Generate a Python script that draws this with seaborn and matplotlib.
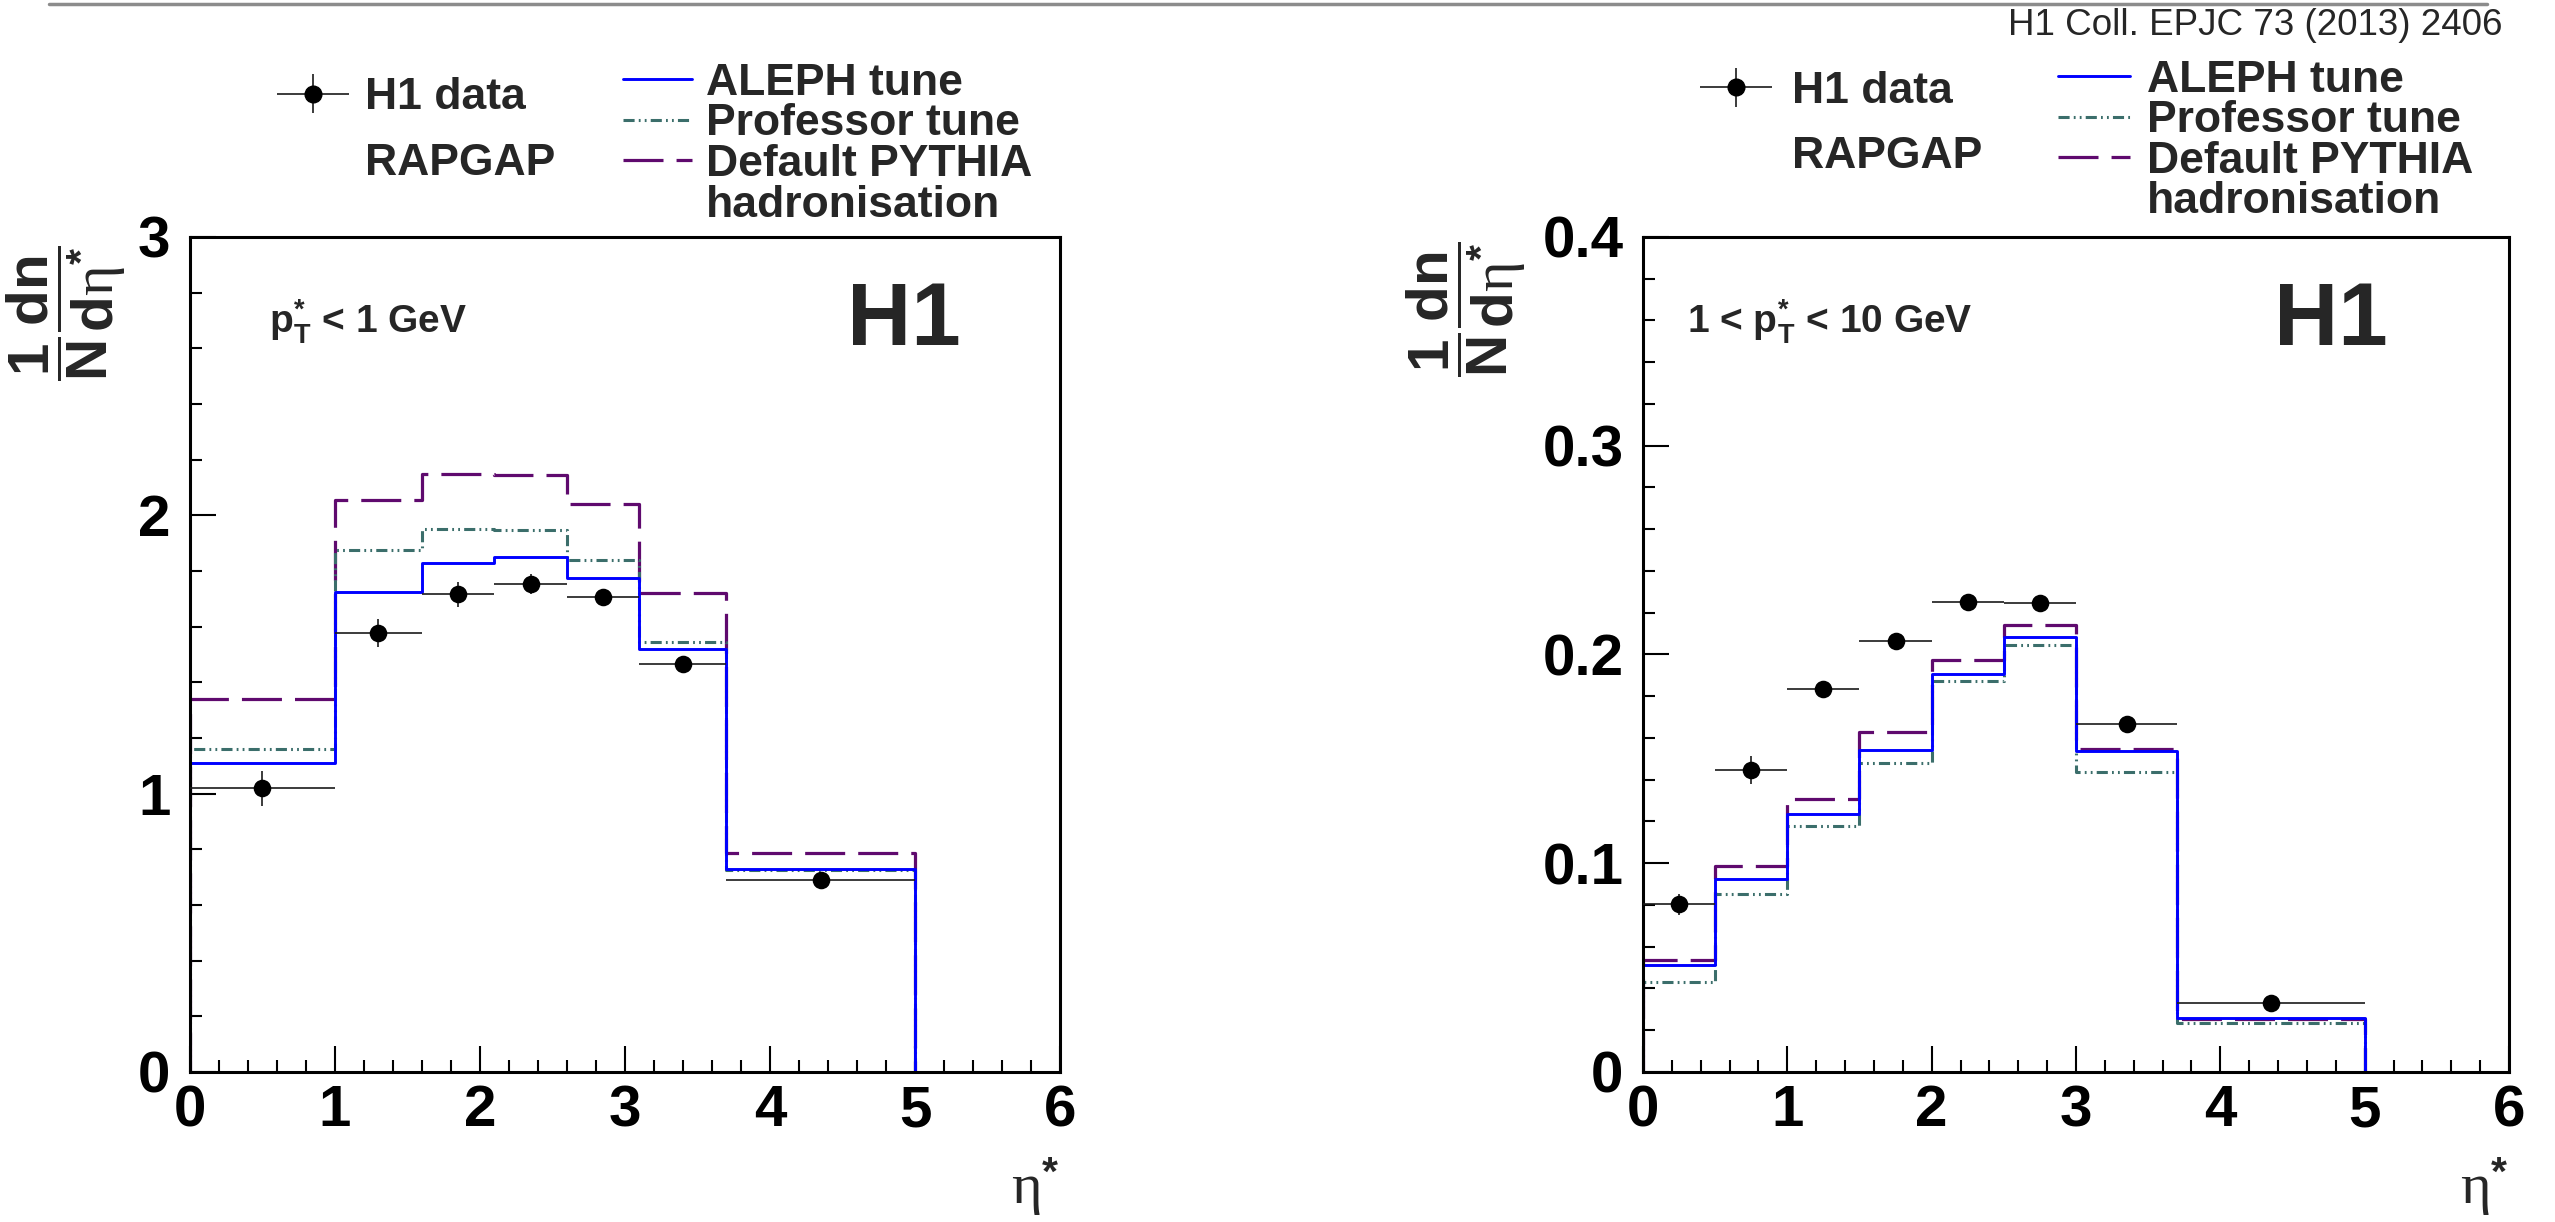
import numpy as np
import pandas as pd
import matplotlib
matplotlib.use("Agg")
import matplotlib.pyplot as plt
import seaborn as sns
from matplotlib.lines import Line2D
from matplotlib.container import ErrorbarContainer
from matplotlib.legend_handler import HandlerErrorbar
from matplotlib.ticker import MultipleLocator, FuncFormatter

# ---------------- data ----------------
# left panel: pT* < 1 GeV
edges_lo = [0.0, 1.0, 1.6, 2.1, 2.6, 3.1, 3.7, 5.0]
aleph_lo = [1.11, 1.725, 1.83, 1.85, 1.775, 1.52, 0.73]
prof_lo = [1.16, 1.875, 1.952, 1.946, 1.84, 1.545, 0.725]
pythia_lo = [1.34, 2.055, 2.15, 2.145, 2.04, 1.72, 0.787]
data_lo = [1.02, 1.578, 1.716, 1.754, 1.706, 1.465, 0.689]
err_lo = [0.063, 0.051, 0.045, 0.036, 0.02, 0.018, 0.012]

# right panel: 1 < pT* < 10 GeV
edges_hi = [0.0, 0.5, 1.0, 1.5, 2.0, 2.5, 3.0, 3.7, 5.0]
aleph_hi = [0.0511, 0.0926, 0.1238, 0.1541, 0.1906, 0.2084, 0.1537, 0.026]
prof_hi = [0.0429, 0.0853, 0.1179, 0.1481, 0.1873, 0.2044, 0.1437, 0.0237]
pythia_hi = [0.0535, 0.0987, 0.1306, 0.1627, 0.1976, 0.2143, 0.1549, 0.0252]
data_hi = [0.0803, 0.1446, 0.1835, 0.2063, 0.225, 0.2248, 0.1665, 0.033]
err_hi = [0.005, 0.0068, 0.003, 0.003, 0.003, 0.003, 0.003, 0.002]

x_ticks = [0, 1, 2, 3, 4, 5, 6]
series_labels = ["ALEPH tune", "Professor tune", "Default PYTHIA", "hadronisation"]
data_label = "H1 data"
gen_label = "RAPGAP"
citation = "H1 Coll. EPJC 73 (2013) 2406"

# ---------------- style ----------------
sns.set_style("white")
plt.rcParams['font.family'] = ['Liberation Sans', 'DejaVu Sans']
plt.rcParams['font.weight'] = 'bold'
plt.rcParams['mathtext.fontset'] = 'custom'
plt.rcParams['mathtext.rm'] = 'Liberation Serif:weight=normal'
plt.rcParams['mathtext.it'] = 'Liberation Serif:italic:weight=normal'
plt.rcParams['mathtext.bf'] = 'Liberation Sans:weight=bold'
plt.rcParams['mathtext.sf'] = 'Liberation Sans'
plt.rcParams['lines.scale_dashes'] = False

C_ALEPH = '#0000ff'
C_PROF = '#3b6e6b'
C_PYTH = '#5f0a6e'
LS_ALEPH = '-'
LS_PROF = (0, (8, 3, 1.3, 3, 1.3, 3))
LS_PYTH = (0, (28.8, 9.4))
LEG_FS = 32

fig = plt.figure(figsize=(25.55, 12.22), dpi=100)
fig.patch.set_facecolor('white')
ax_l = fig.add_axes([0.07436, 0.12275, 0.34051, 0.68331])
ax_r = fig.add_axes([0.64305, 0.12275, 0.33894, 0.68331])


def step_frame(edges, values):
    edges = np.asarray(edges, float)
    values = np.asarray(values, float)
    x = np.concatenate([[edges[0]], edges, [edges[-1]]])
    y = np.concatenate([[0.0], values, [values[-1], 0.0]])
    return pd.DataFrame({'eta': x, 'val': y})


def draw_panel(ax, edges, aleph, prof, pythia, data, err, ymax, ymaj, ymin_step):
    for vals, c, ls, lw in [(pythia, C_PYTH, LS_PYTH, 2.3),
                            (prof, C_PROF, LS_PROF, 2.2),
                            (aleph, C_ALEPH, LS_ALEPH, 2.1)]:
        df = step_frame(edges, vals)
        sns.lineplot(data=df, x='eta', y='val', ax=ax, sort=False, estimator=None,
                     drawstyle='steps-post', color=c, linestyle=ls, linewidth=lw,
                     legend=False)
    e = np.asarray(edges, float)
    centers = 0.5 * (e[:-1] + e[1:])
    halfw = 0.5 * (e[1:] - e[:-1])
    eb = ax.errorbar(centers, data, xerr=halfw, yerr=err, fmt='none',
                     ecolor='#1a1a1a', elinewidth=1.2, capsize=0, zorder=5)
    sns.scatterplot(x=centers, y=data, ax=ax, color='black', s=160,
                    linewidth=0, zorder=6, legend=False)
    ax.set_xlim(0, 6)
    ax.set_ylim(0, ymax)
    ax.set_xlabel('')
    ax.set_ylabel('')
    ax.set_xticks(x_ticks)
    ax.xaxis.set_minor_locator(MultipleLocator(0.2))
    ax.yaxis.set_major_locator(MultipleLocator(ymaj))
    ax.yaxis.set_minor_locator(MultipleLocator(ymin_step))
    ax.yaxis.set_major_formatter(FuncFormatter(lambda v, p: '0' if abs(v) < 1e-9 else f'{v:g}'))
    ax.xaxis.set_major_formatter(FuncFormatter(lambda v, p: f'{v:g}'))
    ax.tick_params(which='both', direction='in', top=False, right=False,
                   bottom=True, left=True, width=1.5, colors='black', labelsize=42)
    ax.tick_params(which='major', length=18.7)
    ax.tick_params(which='minor', length=8.6)
    ax.tick_params(axis='x', which='major', pad=9)
    ax.tick_params(axis='y', which='major', pad=14)
    for s in ax.spines.values():
        s.set_visible(True)
        s.set_color('black')
        s.set_linewidth(2.2)
    ax.set_xlabel(r'$\mathrm{\eta}^{\mathbf{*}}$', fontsize=42, fontweight='normal', loc='right')
    ax.xaxis.set_label_coords(1.0, -0.1)
    ax.xaxis.label.set_va('top')
    return eb


eb_l = draw_panel(ax_l, edges_lo, aleph_lo, prof_lo, pythia_lo, data_lo, err_lo, 3.0, 1.0, 0.2)
eb_r = draw_panel(ax_r, edges_hi, aleph_hi, prof_hi, pythia_hi, data_hi, err_hi, 0.4, 0.1, 0.02)

# in-panel texts
ax_l.text(0.091, 0.898, r'$\mathbf{p_{T}^{*}}$ < 1 GeV', transform=ax_l.transAxes,
          fontsize=28, fontweight='bold', va='center', ha='left')
ax_r.text(0.051, 0.898, r'1 < $\mathbf{p_{T}^{*}}$ < 10 GeV', transform=ax_r.transAxes,
          fontsize=28, fontweight='bold', va='center', ha='left')
ax_l.text(4.53, 2.695, 'H1', fontsize=64, fontweight='heavy', va='center', ha='left')
ax_r.text(4.37, 0.3593, 'H1', fontsize=64, fontweight='heavy', va='center', ha='left')

# y labels
ylab = r'$\dfrac{\mathbf{1}}{\mathbf{N}}\dfrac{\mathbf{dn}}{\mathbf{d}\mathrm{\eta}^{\mathbf{*}}}$'
fig.text(0.026, 0.799, ylab, rotation=90, ha='center', va='top', fontsize=42)
fig.text(0.5737, 0.802, ylab, rotation=90, ha='center', va='top', fontsize=42)

# legends
blank = Line2D([], [], color='none')
marker_proxy = Line2D([], [], marker='o', ls='none', color='black', markersize=12)
line_handles = [Line2D([], [], color=C_ALEPH, ls=LS_ALEPH, lw=2.1),
                Line2D([], [], color=C_PROF, ls=LS_PROF, lw=2.2),
                Line2D([], [], color=C_PYTH, ls=LS_PYTH, lw=2.3),
                blank]


def add_legends(ax, eb, data_xy, data_hl, data_pad, lines_xy, lines_hl, lines_pad):
    leg1 = ax.legend([(eb, marker_proxy), blank], [data_label, gen_label],
                     loc='upper left', bbox_to_anchor=data_xy, bbox_transform=fig.transFigure,
                     frameon=False, borderpad=0, borderaxespad=0,
                     handlelength=data_hl, handletextpad=data_pad, labelspacing=0.55,
                     prop={'size': LEG_FS, 'weight': 'bold'},
                     handler_map={ErrorbarContainer: HandlerErrorbar(xerr_size=0.81, yerr_size=0.44)})
    ax.add_artist(leg1)
    ax.legend(line_handles, series_labels,
              loc='upper left', bbox_to_anchor=lines_xy, bbox_transform=fig.transFigure,
              frameon=False, borderpad=0, borderaxespad=0,
              handlelength=lines_hl, handletextpad=lines_pad, labelspacing=-0.01,
              prop={'size': LEG_FS, 'weight': 'bold'})


add_legends(ax_l, eb_l, (0.1084, 0.9366), 1.64, 0.34, (0.2438, 0.9485), 1.55, 0.32)
add_legends(ax_r, eb_r, (0.6646, 0.9419), 1.71, 0.41, (0.8055, 0.9513), 1.62, 0.38)

# citation and top rule
fig.text(0.9793, 0.9714, citation, ha='right', va='baseline', fontsize=26.5, fontweight='normal')
fig.add_artist(Line2D([49 / 2555, 2487 / 2555], [1 - 4 / 1222, 1 - 4 / 1222],
                      color='#8c8c8c', lw=2.5, transform=fig.transFigure))

fig.savefig('out.png', dpi=100, facecolor='white')
